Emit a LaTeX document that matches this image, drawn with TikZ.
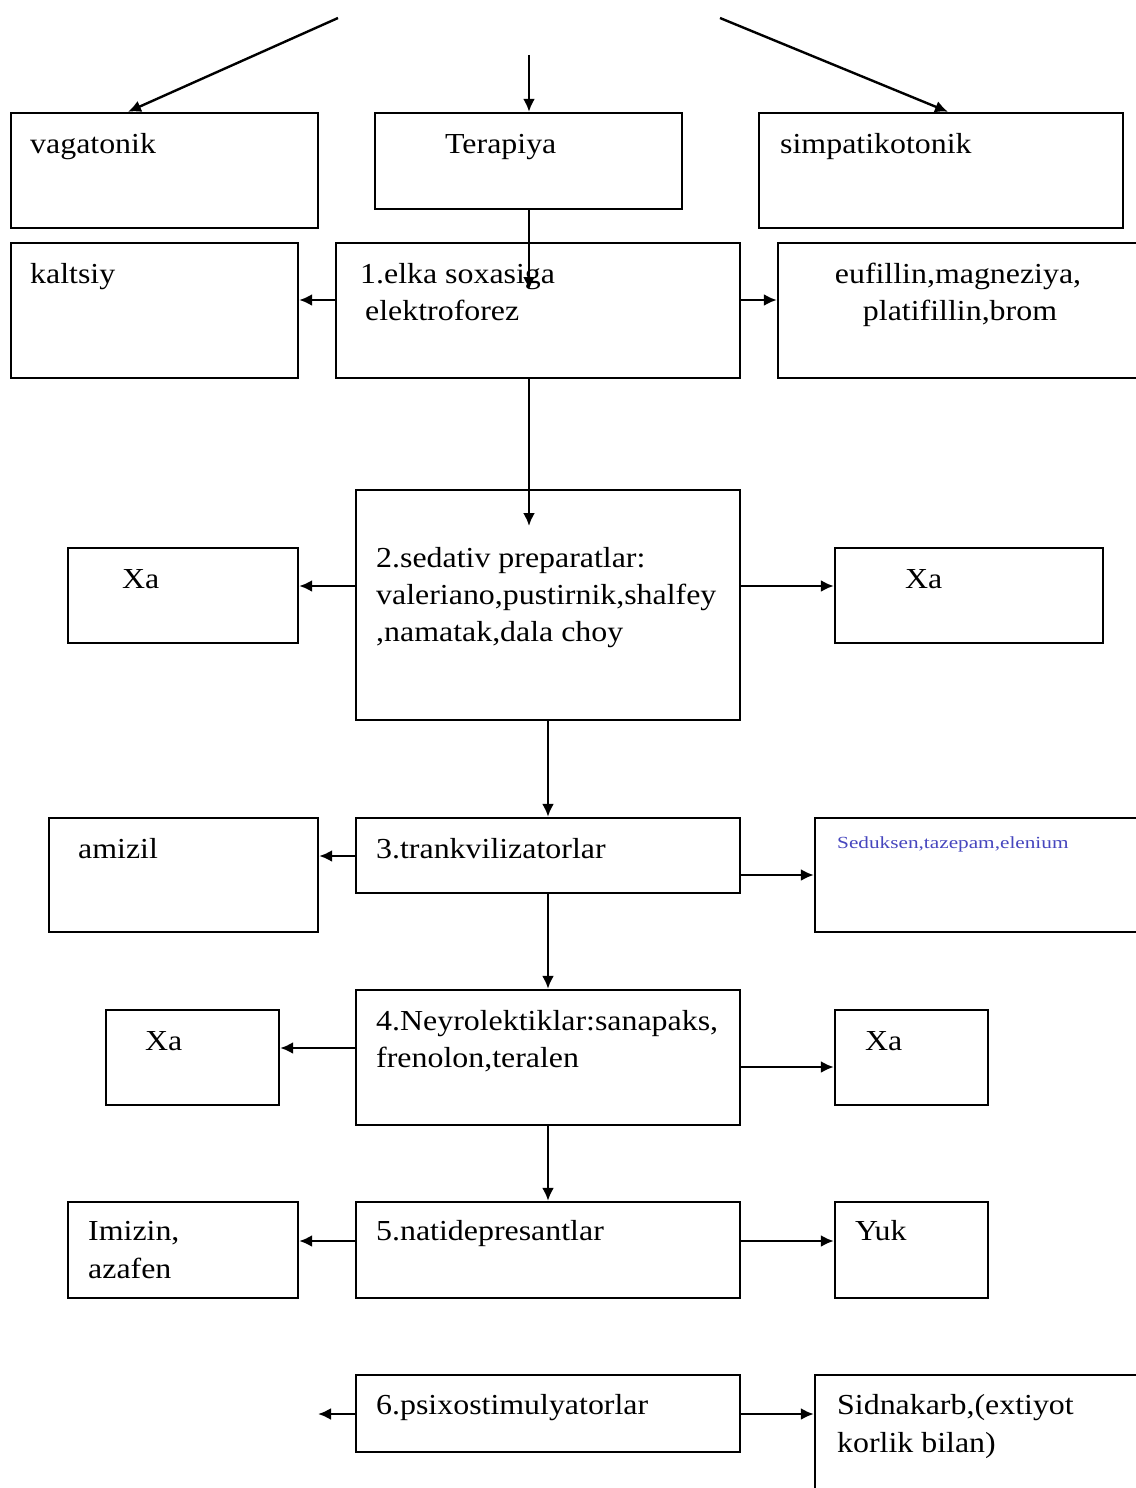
\documentclass[tikz,border=0pt]{standalone}
\usepackage{fontspec}
\setmainfont[FakeStretch=1.1]{Liberation Serif}
\newfontfamily\widefont[FakeStretch=1.25]{Liberation Serif}
\usetikzlibrary{arrows.meta,fit}
\definecolor{drugblue}{RGB}{70,70,190}
\begin{document}
\begin{tikzpicture}[x=1pt,y=-1pt,
  box/.style={draw, line width=2.4pt, inner sep=0pt},
  txt/.style={anchor=base west, inner sep=0pt, font=\fontsize{29}{34}\selectfont},
  ctxt/.style={anchor=base, inner sep=0pt, font=\fontsize{29}{34}\selectfont},
  small/.style={anchor=base west, inner sep=0pt, text=drugblue, font=\widefont\fontsize{17}{20}\selectfont},
  arr/.style={line width=2.4pt, -{Latex[length=13pt,width=12pt]}}]
\useasboundingbox (0,0) rectangle (1135,1488);

% boxes
\node[box, fit={(11,113) (318,228)}] (vag) {};
\node[box, fit={(375,113) (682,209)}] (ter) {};
\node[box, fit={(759,113) (1123,228)}] (sim) {};
\node[box, fit={(11,243) (298,378)}] (kal) {};
\node[box, fit={(336,243) (740,378)}] (b1) {};
\node[box, fit={(778,243) (1145,378)}] (euf) {};
\node[box, fit={(356,490) (740,720)}] (b2) {};
\node[box, fit={(68,548) (298,643)}] (xa2l) {};
\node[box, fit={(835,548) (1103,643)}] (xa2r) {};
\node[box, fit={(49,818) (318,932)}] (ami) {};
\node[box, fit={(356,818) (740,893)}] (b3) {};
\node[box, fit={(815,818) (1145,932)}] (sed) {};
\node[box, fit={(356,990) (740,1125)}] (b4) {};
\node[box, fit={(106,1010) (279,1105)}] (xa4l) {};
\node[box, fit={(835,1010) (988,1105)}] (xa4r) {};
\node[box, fit={(356,1202) (740,1298)}] (b5) {};
\node[box, fit={(68,1202) (298,1298)}] (imi) {};
\node[box, fit={(835,1202) (988,1298)}] (yuk) {};
\node[box, fit={(356,1375) (740,1452)}] (b6) {};
\node[box, fit={(815,1375) (1145,1500)}] (sid) {};

% texts
\node[txt] (tvag) at (30,153) {vagatonik};
\node[txt] (tter) at (445,153) {Terapiya};
\node[txt] (tsim) at (780,153) {simpatikotonik};
\node[txt] (tkal) at (30,283) {kaltsiy};
\node[txt] (tb1a) at (360,283) {1.elka soxasiga};
\node[txt] (tb1b) at (365,320) {elektroforez};
\node[ctxt] (teufa) at (958,283) {eufillin,magneziya,};
\node[ctxt] (teufb) at (960,320) {platifillin,brom};
\node[txt] (tb2a) at (376,567) {2.sedativ preparatlar:};
\node[txt] (tb2b) at (376,604) {valeriano,pustirnik,shalfey};
\node[txt] (tb2c) at (376,641) {,namatak,dala choy};
\node[txt] (txa2l) at (122,588) {Xa};
\node[txt] (txa2r) at (905,588) {Xa};
\node[txt] (tami) at (78,858) {amizil};
\node[txt] (tb3) at (376,858) {3.trankvilizatorlar};
\node[small] (tsed) at (837,848) {Seduksen,tazepam,elenium};
\node[txt] (tb4a) at (376,1030) {4.Neyrolektiklar:sanapaks,};
\node[txt] (tb4b) at (376,1067) {frenolon,teralen};
\node[txt] (txa4l) at (145,1050) {Xa};
\node[txt] (txa4r) at (865,1050) {Xa};
\node[txt] (timia) at (88,1240) {Imizin,};
\node[txt] (timib) at (88,1278) {azafen};
\node[txt] (tb5) at (376,1240) {5.natidepresantlar};
\node[txt] (tyuk) at (855,1240) {Yuk};
\node[txt] (tb6) at (376,1414) {6.psixostimulyatorlar};
\node[txt] (tsida) at (837,1414) {Sidnakarb,(extiyot};
\node[txt] (tsidb) at (837,1452) {korlik bilan)};

% free ends
\coordinate (srcl) at (338,18);
\coordinate (srcm) at (529,55);
\coordinate (srcr) at (720,18);
\coordinate (b6out) at (318,1414);

% connectors
\draw[arr] (srcl) -- (vag.north -| 128,0);
\draw[arr] (srcm) -- (ter.north -| 529,0);
\draw[arr] (srcr) -- (sim.north -| 948,0);
\draw[arr] (ter.south -| 529,0) -- (529,290);
\draw[arr] (b1.west |- 0,300) -- (kal.east |- 0,300);
\draw[arr] (b1.east |- 0,300) -- (euf.west |- 0,300);
\draw[arr] (b1.south -| 529,0) -- (529,526);
\draw[arr] (b2.west |- 0,586) -- (xa2l.east |- 0,586);
\draw[arr] (b2.east |- 0,586) -- (xa2r.west |- 0,586);
\draw[arr] (b2.south) -- (b3.north);
\draw[arr] (b3.west |- 0,856) -- (ami.east |- 0,856);
\draw[arr] (b3.east |- 0,875) -- (sed.west |- 0,875);
\draw[arr] (b3.south) -- (b4.north);
\draw[arr] (b4.west |- 0,1048) -- (xa4l.east |- 0,1048);
\draw[arr] (b4.east |- 0,1067) -- (xa4r.west |- 0,1067);
\draw[arr] (b4.south) -- (b5.north);
\draw[arr] (b5.west |- 0,1241) -- (imi.east |- 0,1241);
\draw[arr] (b5.east |- 0,1241) -- (yuk.west |- 0,1241);
\draw[arr] (b6.west |- 0,1414) -- (b6out);
\draw[arr] (b6.east |- 0,1414) -- (sid.west |- 0,1414);
\end{tikzpicture}
\end{document}
